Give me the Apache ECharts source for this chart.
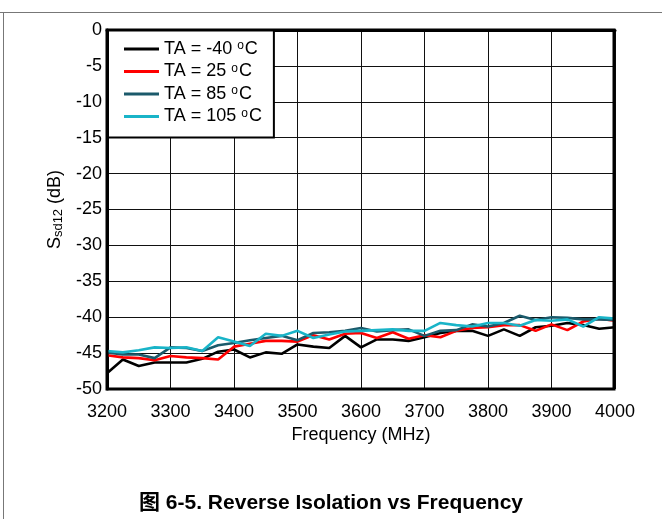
<!DOCTYPE html>
<html><head><meta charset="utf-8">
<script src="https://cdn.jsdelivr.net/npm/echarts@6/dist/echarts.min.js"></script>
<style>html,body{margin:0;padding:0;background:#fff}#c{width:662px;height:519px}</style>
</head><body><div id="c"></div>
<script>
const freq = [3200,3225,3250,3275,3300,3325,3350,3375,3400,3425,3450,3475,3500,3525,3550,3575,3600,3625,3650,3675,3700,3725,3750,3775,3800,3825,3850,3875,3900,3925,3950,3975,4000];
const ta_m40 = [-47.8,-45.9,-46.8,-46.3,-46.3,-46.3,-45.8,-44.8,-44.5,-45.6,-44.9,-45.1,-43.8,-44.1,-44.3,-42.6,-44.2,-43.1,-43.1,-43.3,-42.8,-42.2,-41.9,-41.9,-42.6,-41.7,-42.6,-41.4,-41.2,-40.8,-41.1,-41.6,-41.4];
const ta_25 = [-45.3,-45.6,-45.7,-46.0,-45.4,-45.6,-45.7,-45.9,-44.1,-43.7,-43.3,-43.3,-43.4,-42.5,-43.1,-42.3,-42.2,-42.9,-42.1,-43.0,-42.5,-42.8,-41.9,-41.5,-41.4,-41.1,-41.1,-41.9,-41.0,-41.8,-40.6,-40.2,-40.5];
const ta_85 = [-44.9,-45.2,-45.2,-45.7,-44.2,-44.3,-44.7,-43.9,-43.6,-43.2,-42.9,-42.6,-43.2,-42.2,-42.1,-41.9,-41.5,-42.0,-41.8,-41.7,-42.6,-41.9,-41.8,-41.0,-41.3,-40.8,-39.8,-40.4,-40.0,-40.1,-40.3,-40.3,-40.4];
const ta_105 = [-44.7,-44.9,-44.6,-44.2,-44.3,-44.2,-44.7,-42.8,-43.4,-44.0,-42.3,-42.6,-41.9,-42.9,-42.4,-42.0,-41.9,-41.8,-41.7,-41.9,-41.9,-40.8,-41.1,-41.3,-40.8,-40.8,-41.2,-40.4,-40.5,-40.3,-41.3,-40.0,-40.2];
const seriesNames = ['TA = -40 {sup|o}C','TA = 25 {sup|o}C','TA = 85 {sup|o}C','TA = 105 {sup|o}C'];
const seriesData = [ta_m40, ta_25, ta_85, ta_105];
const colors = ['#000000','#ff0000','#1b5a6b','#19b4c8'];
const xTicks = [3200,3300,3400,3500,3600,3700,3800,3900,4000];
const yTicks = [0,-5,-10,-15,-20,-25,-30,-35,-40,-45,-50];

const chart = echarts.init(document.getElementById('c'), null, {renderer:'canvas'});
const font = 'Liberation Sans, Arial, sans-serif';
chart.setOption({
  animation:false,
  backgroundColor:'#fff',
  textStyle:{fontFamily:font},
  title:{text:'图 6-5. Reverse Isolation vs Frequency', left:'center', bottom:0,
    textStyle:{fontFamily:'Liberation Sans, Noto Sans CJK SC, sans-serif', fontWeight:'bold', fontSize:21, color:'#000'}},
  grid:{left:107, right:47, top:30, bottom:130},
  legend:{
    orient:'vertical', left:108, top:30, padding:[10,12,9,16],
    backgroundColor:'#fff', borderColor:'#000', borderWidth:2,
    itemWidth:35, itemHeight:3, itemGap:1.5, icon:'rect',
    data: seriesNames,
    textStyle:{fontSize:18, color:'#000', fontFamily:font, lineHeight:18,
      rich:{sup:{fontSize:12, verticalAlign:'top', padding:[0,1,9,0], fontFamily:font, lineHeight:12}}}
  },
  xAxis:{type:'value', min:3200, max:4000, interval:100,
    name:'Frequency (MHz)', nameLocation:'middle', nameGap:35,
    nameTextStyle:{fontSize:18, color:'#000', fontFamily:font},
    axisLine:{lineStyle:{color:'#000', width:3}},
    axisTick:{show:false},
    axisLabel:{fontSize:18, color:'#000', margin:14, fontFamily:font,
      formatter:v=> xTicks.includes(v)? String(v):''},
    splitLine:{show:true, lineStyle:{color:'#111', width:1}}
  },
  yAxis:{type:'value', min:-50, max:0, interval:5,
    name:'{s|S}{sub|sd12}{s| (dB)}', nameLocation:'middle', nameGap:40, nameRotate:90,
    nameTextStyle:{fontSize:18, color:'#000', fontFamily:font,
      rich:{s:{fontSize:18, fontFamily:font}, sub:{fontSize:13, verticalAlign:'bottom', padding:[7,0,0,0], fontFamily:font}}},
    axisLine:{lineStyle:{color:'#000', width:3}},
    axisTick:{show:false},
    axisLabel:{fontSize:18, color:'#000', margin:5, fontFamily:font,
      formatter:v=> yTicks.includes(v)? String(v):''},
    splitLine:{show:true, lineStyle:{color:'#111', width:1}}
  },
  series: seriesNames.map((n,i)=>({
    name:n, type:'line', showSymbol:false, symbol:'none',
    data: freq.map((f,j)=>[f, seriesData[i][j]]),
    lineStyle:{color:colors[i], width:2.6}, itemStyle:{color:colors[i]},
    z: 2+i
  })),
  graphic:[
    {type:'line', shape:{x1:0,y1:12.5,x2:662,y2:12.5}, style:{stroke:'#777', lineWidth:1}, silent:true},
    {type:'line', shape:{x1:3.5,y1:12.5,x2:3.5,y2:519}, style:{stroke:'#777', lineWidth:1}, silent:true},
    {type:'rect', shape:{x:107,y:30,width:507,height:359}, style:{fill:'none', stroke:'#000', lineWidth:3}, silent:true, z:100}
  ]
});
</script></body></html>
